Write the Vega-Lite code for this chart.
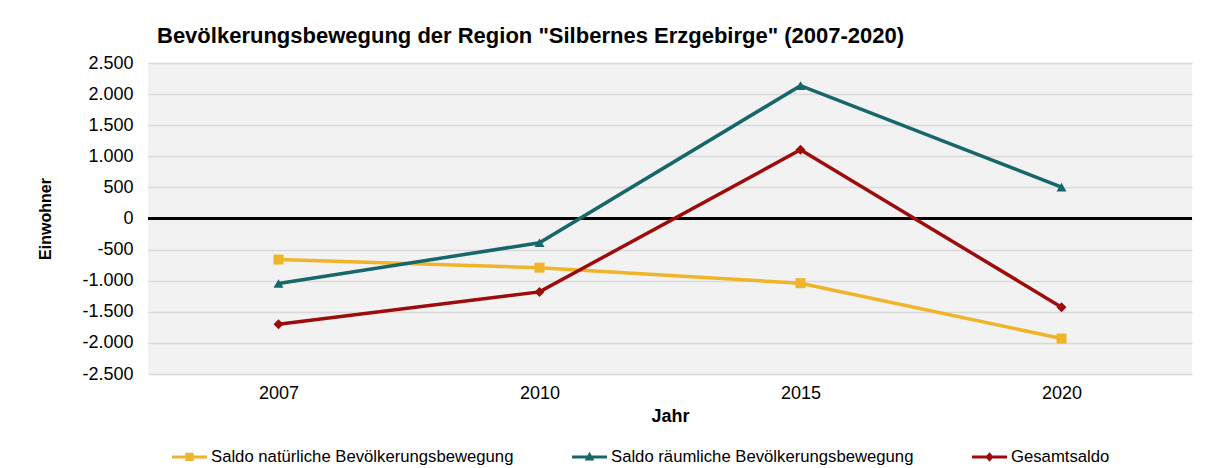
{
  "$schema": "https://vega.github.io/schema/vega-lite/v6.json",
  "autosize": {"type": "none"},
  "width": 1044,
  "height": 311,
  "padding": {"left": 148, "top": 63, "right": 18, "bottom": 94},
  "background": "white",
  "config": {
    "font": "Liberation Sans",
    "view": {"fill": "#f2f2f2", "stroke": null},
    "locale": {"number": {"decimal": ",", "thousands": ".", "grouping": [3], "currency": ["", " €"], "minus": "-"}}
  },
  "title": {
    "text": "Bevölkerungsbewegung der Region \"Silbernes Erzgebirge\" (2007-2020)",
    "anchor": "start",
    "frame": "group",
    "fontSize": 22,
    "fontWeight": "bold",
    "color": "#000000",
    "offset": 6,
    "dx": 9
  },
  "data": {
    "values": [
      {"Jahr": "2007", "Reihe": "Saldo natürliche Bevölkerungsbewegung", "Wert": -660},
      {"Jahr": "2010", "Reihe": "Saldo natürliche Bevölkerungsbewegung", "Wert": -790},
      {"Jahr": "2015", "Reihe": "Saldo natürliche Bevölkerungsbewegung", "Wert": -1040},
      {"Jahr": "2020", "Reihe": "Saldo natürliche Bevölkerungsbewegung", "Wert": -1930},
      {"Jahr": "2007", "Reihe": "Saldo räumliche Bevölkerungsbewegung", "Wert": -1045},
      {"Jahr": "2010", "Reihe": "Saldo räumliche Bevölkerungsbewegung", "Wert": -390},
      {"Jahr": "2015", "Reihe": "Saldo räumliche Bevölkerungsbewegung", "Wert": 2135},
      {"Jahr": "2020", "Reihe": "Saldo räumliche Bevölkerungsbewegung", "Wert": 505},
      {"Jahr": "2007", "Reihe": "Gesamtsaldo", "Wert": -1700},
      {"Jahr": "2010", "Reihe": "Gesamtsaldo", "Wert": -1180},
      {"Jahr": "2015", "Reihe": "Gesamtsaldo", "Wert": 1105},
      {"Jahr": "2020", "Reihe": "Gesamtsaldo", "Wert": -1425}
    ]
  },
  "encoding": {
    "x": {
      "field": "Jahr",
      "type": "ordinal",
      "scale": {"type": "point", "padding": 0.5},
      "axis": {
        "title": "Jahr",
        "titleFontSize": 18,
        "titleFontWeight": "bold",
        "titleColor": "#000000",
        "titlePadding": 5,
        "labelAngle": 0,
        "labelFontSize": 18,
        "labelColor": "#000000",
        "labelPadding": 10,
        "ticks": false,
        "domain": false,
        "grid": false
      }
    },
    "y": {
      "field": "Wert",
      "type": "quantitative",
      "scale": {"domain": [-2500, 2500], "nice": false},
      "axis": {
        "title": "Einwohner",
        "titleFontSize": 16,
        "titleFontWeight": "bold",
        "titleColor": "#000000",
        "titlePadding": 28,
        "values": [-2500, -2000, -1500, -1000, -500, 0, 500, 1000, 1500, 2000, 2500],
        "format": ",d",
        "labelFontSize": 18,
        "labelColor": "#000000",
        "labelPadding": 15,
        "ticks": false,
        "domain": false,
        "grid": true,
        "gridColor": "#d9d9d9",
        "gridWidth": 1.5
      }
    },
    "color": {
      "field": "Reihe",
      "type": "nominal",
      "scale": {
        "domain": ["Saldo natürliche Bevölkerungsbewegung", "Saldo räumliche Bevölkerungsbewegung", "Gesamtsaldo"],
        "range": ["#f0b429", "#17666a", "#9e0b0b"]
      },
      "legend": {
        "title": null,
        "orient": "none",
        "direction": "horizontal",
        "legendX": 24,
        "legendY": 376,
        "labelFontSize": 16.7,
        "labelColor": "#000000",
        "labelLimit": 500,
        "labelOffset": 4,
        "columnPadding": 58,
        "symbolSize": 1225,
        "symbolStrokeWidth": 0,
        "encode": {
          "symbols": {
            "update": {
              "shape": {"signal": "datum.value === 'Gesamtsaldo' ? 'M-1,-0.085H1V0.085H-1Z M0,-0.27L0.24,0L0,0.27L-0.24,0Z' : (datum.value === 'Saldo natürliche Bevölkerungsbewegung' ? 'M-1,-0.085H1V0.085H-1Z M-0.24,-0.24H0.24V0.24H-0.24Z' : 'M-1,-0.085H1V0.085H-1Z M0,-0.3L0.28,0.2H-0.28Z')"},
              "fill": {"scale": "color", "field": "value"},
              "strokeWidth": {"value": 0},
              "opacity": {"value": 1}
            }
          }
        }
      }
    }
  },
  "layer": [
    {
      "mark": {"type": "rule", "color": "#000000", "strokeWidth": 1.5},
      "encoding": {"y": {"datum": 0}, "x": null, "color": null}
    },
    {
      "mark": {"type": "line", "strokeWidth": 3.5}
    },
    {
      "transform": [{"filter": "datum.Reihe === 'Saldo natürliche Bevölkerungsbewegung'"}],
      "mark": {"type": "point", "filled": true, "opacity": 1, "shape": "square", "size": 100}
    },
    {
      "transform": [{"filter": "datum.Reihe === 'Saldo räumliche Bevölkerungsbewegung'"}],
      "mark": {"type": "point", "filled": true, "opacity": 1, "shape": "triangle-up", "size": 100}
    },
    {
      "transform": [{"filter": "datum.Reihe === 'Gesamtsaldo'"}],
      "mark": {"type": "point", "filled": true, "opacity": 1, "shape": "diamond", "size": 100}
    }
  ]
}
